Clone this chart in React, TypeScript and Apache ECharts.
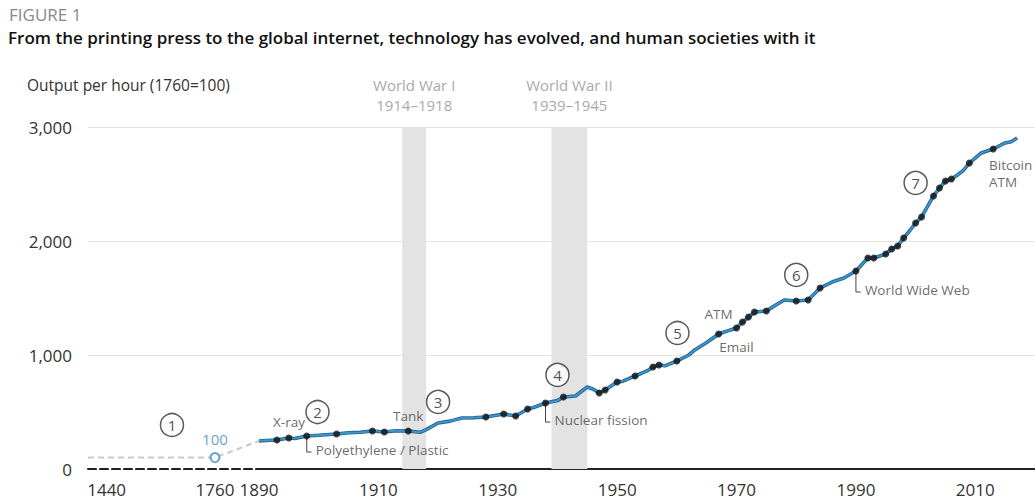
import React, { useEffect, useRef } from "react";
import * as echarts from "echarts";

// ---- data ----
const preYears = [1385, 1760, 1890];
const preValues = [100, 100, 246];

const lineYears = [
  1890, 1892, 1893, 1895, 1896, 1898, 1900, 1903, 1905, 1907, 1909, 1911, 1913, 1915, 1917, 1918,
  1920, 1922, 1924, 1926, 1928, 1931, 1933, 1935, 1936, 1938, 1940, 1941, 1943, 1945, 1946, 1947,
  1948, 1950, 1951, 1953, 1955, 1956, 1957, 1958, 1960, 1962, 1963, 1965, 1967, 1969, 1970, 1971,
  1972, 1973, 1975, 1976, 1978, 1980, 1982, 1984, 1986, 1988, 1990, 1992, 1993, 1995, 1996, 1997,
  1998, 1999, 2000, 2001, 2003, 2004, 2005, 2006, 2007, 2008, 2009, 2011, 2013, 2015, 2016, 2017,
];
const lineValues = [
  246, 252, 254, 272, 268, 290, 296, 307, 318, 322, 333, 325, 336, 333, 322, 345,
  404, 420, 447, 450, 456, 482, 465, 526, 540, 579, 600, 632, 640, 719, 700, 667,
  693, 763, 770, 816, 860, 895, 912, 905, 947, 1000, 1044, 1110, 1184, 1220, 1237, 1289,
  1333, 1377, 1386, 1420, 1482, 1474, 1482, 1588, 1640, 1675, 1737, 1851, 1851, 1886, 1930, 1956,
  2026, 2090, 2158, 2211, 2395, 2465, 2526, 2544, 2579, 2620, 2684, 2772, 2807, 2860, 2870, 2904,
];

const dotYears = [
  1893, 1895, 1898, 1903, 1909, 1911, 1915, 1928, 1931, 1933, 1935, 1938, 1941, 1947, 1948, 1950,
  1953, 1956, 1957, 1960, 1967, 1970, 1971, 1972, 1973, 1975, 1980, 1982, 1984, 1990, 1992, 1993,
  1995, 1996, 1997, 1998, 2000, 2001, 2003, 2004, 2005, 2006, 2009, 2013,
];
const dotValues = [
  254, 272, 290, 307, 333, 325, 333, 456, 482, 465, 526, 579, 632, 667, 693, 763,
  816, 895, 912, 947, 1184, 1237, 1289, 1333, 1377, 1386, 1474, 1482, 1588, 1737, 1851, 1851,
  1886, 1930, 1956, 2026, 2158, 2211, 2395, 2465, 2526, 2544, 2684, 2807,
];

const yTicks = [0, 1000, 2000, 3000];
const preTickYears = [1440, 1760];
const xTickYears = [1890, 1910, 1930, 1950, 1970, 1990, 2010];

const warNames = ["World War I", "World War II"];
const warFrom = [1914, 1939];
const warTo = [1918, 1945];

const stepLabels = ["2", "3", "4", "5", "6", "7"];
const stepYears = [1899.8, 1920, 1940, 1960.1, 1980, 2000];
const stepValues = [500, 588, 825, 1193, 1702, 2509];
const firstStepYear = 1633;
const firstStepValue = 386;

const eventLabels = ["X-ray", "Tank", "ATM", "Email", "Bitcoin\nATM"];
const eventYears = [1897.7, 1915, 1967, 1967.1, 2012.3];
const eventValues = [412, 465, 1360, 1070, 2590];

const leaderLabels = ["Polyethylene / Plastic", "Nuclear fission", "World Wide Web"];
const leaderYears = [1898, 1938, 1990];
const leaderFrom = [290, 579, 1737];
const leaderTo = [149, 412, 1553];

const FONT = "'Open Sans', 'Noto Sans', sans-serif";

export default function App() {
  const ref = useRef<HTMLDivElement>(null);
  useEffect(() => {
    if (!ref.current) return;
    const chart = echarts.init(ref.current, null, { renderer: "svg" });

    const eventAlign = ["right", "center", "center", "left", "left"];
    const linePoints = lineYears.map((y, i) => [y, lineValues[i]]);

    const leaderSeries = leaderYears.map((yr, i) => ({
      type: "line",
      xAxisIndex: 1,
      yAxisIndex: 1,
      symbol: "none",
      silent: true,
      z: 3,
      lineStyle: { color: "#444", width: 1 },
      data: [
        [yr, leaderFrom[i]],
        [yr, leaderTo[i]],
        [yr + 0.8, leaderTo[i]],
      ],
    }));

    const option: any = {
      animation: false,
      textStyle: { fontFamily: FONT },
      grid: [
        { left: 88, width: 171, top: 127, bottom: 33 },
        { left: 259, right: 0, top: 127, bottom: 33 },
      ],
      xAxis: [
        {
          type: "value",
          gridIndex: 0,
          min: 1385,
          max: 1890,
          axisLine: { show: true, lineStyle: { color: "#222", width: 2, type: [8, 4] } },
          axisTick: { show: false },
          splitLine: { show: false },
          axisLabel: {
            customValues: preTickYears,
            color: "#333",
            fontSize: 17,
            margin: 12,
            fontFamily: FONT,
            formatter: (v: number) => String(v),
          },
        },
        {
          type: "value",
          gridIndex: 1,
          min: 1890,
          max: 2020,
          axisLine: { show: true, lineStyle: { color: "#222", width: 2 } },
          axisTick: { show: false },
          splitLine: { show: false },
          axisLabel: {
            customValues: xTickYears,
            color: "#333",
            fontSize: 17,
            margin: 12,
            fontFamily: FONT,
            formatter: (v: number) => String(v),
          },
        },
      ],
      yAxis: [
        {
          type: "value",
          gridIndex: 0,
          min: 0,
          max: 3000,
          interval: 1000,
          axisLine: { show: false },
          axisTick: { show: false },
          splitLine: { lineStyle: { color: "#e4e4e4", width: 1 } },
          axisLabel: {
            color: "#333",
            fontSize: 17,
            margin: 16,
            fontFamily: FONT,
            formatter: (v: number) => (yTicks.includes(v) ? v.toLocaleString("en-US") : ""),
          },
        },
        {
          type: "value",
          gridIndex: 1,
          min: 0,
          max: 3000,
          interval: 1000,
          axisLine: { show: false },
          axisTick: { show: false },
          axisLabel: { show: false },
          splitLine: { lineStyle: { color: "#e4e4e4", width: 1 } },
        },
      ],
      graphic: [
        {
          type: "text",
          left: 9,
          top: 6,
          style: { text: "FIGURE 1", fill: "#888", fontSize: 17, fontFamily: FONT },
        },
        {
          type: "text",
          left: 8,
          top: 29,
          style: {
            text: "From the printing press to the global internet, technology has evolved, and human societies with it",
            fill: "#111",
            fontSize: 17,
            fontWeight: 600,
            fontFamily: FONT,
          },
        },
        {
          type: "text",
          left: 27,
          top: 77,
          style: { text: "Output per hour (1760=100)", fill: "#333", fontSize: 15.5, fontFamily: FONT },
        },
      ],
      series: [
        {
          type: "line",
          xAxisIndex: 0,
          yAxisIndex: 0,
          symbol: "none",
          silent: true,
          lineStyle: { color: "#c9c9c9", width: 2, type: [6, 4] },
          data: preYears.map((y, i) => [y, preValues[i]]),
        },
        {
          type: "scatter",
          xAxisIndex: 0,
          yAxisIndex: 0,
          symbol: "circle",
          symbolSize: 9,
          z: 5,
          itemStyle: { color: "#fff", borderColor: "#3a8cc2", borderWidth: 2 },
          label: {
            show: true,
            position: "top",
            distance: 6,
            formatter: "100",
            color: "#3a8cc2",
            fontSize: 15,
            fontFamily: FONT,
          },
          data: [[preYears[1], preValues[1]]],
        },
        {
          type: "scatter",
          xAxisIndex: 0,
          yAxisIndex: 0,
          symbol: "circle",
          symbolSize: 23,
          z: 5,
          itemStyle: { color: "#fff", borderColor: "#333", borderWidth: 1.5 },
          label: {
            show: true,
            position: "inside",
            formatter: "1",
            color: "#222",
            fontSize: 15,
            fontFamily: FONT,
          },
          data: [[firstStepYear, firstStepValue]],
        },
        {
          type: "line",
          xAxisIndex: 1,
          yAxisIndex: 1,
          symbol: "none",
          silent: true,
          z: 2,
          lineStyle: { color: "#23638f", width: 3.6 },
          data: linePoints,
          markArea: {
            silent: true,
            itemStyle: { color: "#e3e3e3" },
            label: {
              show: true,
              position: "top",
              distance: 12,
              color: "#aaa",
              fontSize: 15,
              lineHeight: 20,
              fontFamily: FONT,
            },
            data: warNames.map((n, i) => [
              { name: `${n}\n${warFrom[i]}–${warTo[i]}`, xAxis: warFrom[i], yAxis: 0 },
              { xAxis: warTo[i], yAxis: 3000 },
            ]),
          },
        },
        {
          type: "line",
          xAxisIndex: 1,
          yAxisIndex: 1,
          symbol: "none",
          silent: true,
          z: 2,
          lineStyle: { color: "#3d97cf", width: 1.8 },
          data: linePoints,
        },
        ...leaderSeries,
        {
          type: "scatter",
          xAxisIndex: 1,
          yAxisIndex: 1,
          symbol: "circle",
          symbolSize: 7,
          z: 4,
          itemStyle: { color: "#111" },
          data: dotYears.map((y, i) => [y, dotValues[i]]),
        },
        {
          type: "scatter",
          xAxisIndex: 1,
          yAxisIndex: 1,
          symbol: "circle",
          symbolSize: 23,
          z: 5,
          itemStyle: { color: "#fff", borderColor: "#333", borderWidth: 1.5 },
          label: {
            show: true,
            position: "inside",
            formatter: (p: any) => stepLabels[p.dataIndex],
            color: "#222",
            fontSize: 15,
            fontFamily: FONT,
          },
          data: stepYears.map((y, i) => [y, stepValues[i]]),
        },
        {
          type: "scatter",
          xAxisIndex: 1,
          yAxisIndex: 1,
          symbolSize: 0,
          silent: true,
          z: 6,
          data: eventYears.map((y, i) => ({
            value: [y, eventValues[i]],
            label: {
              show: true,
              position: "inside",
              align: eventAlign[i],
              verticalAlign: "middle",
              formatter: eventLabels[i],
              color: "#444",
              fontSize: 13.5,
              lineHeight: 17,
              fontFamily: FONT,
            },
          })),
        },
        {
          type: "scatter",
          xAxisIndex: 1,
          yAxisIndex: 1,
          symbolSize: 0,
          silent: true,
          z: 6,
          data: leaderYears.map((y, i) => ({
            value: [y + 1.5, leaderTo[i] + 15],
            label: {
              show: true,
              position: "inside",
              align: "left",
              verticalAlign: "middle",
              formatter: leaderLabels[i],
              color: "#444",
              fontSize: 13.5,
              fontFamily: FONT,
            },
          })),
        },
      ],
    };
    chart.setOption(option);
    return () => chart.dispose();
  }, []);

  return (
    <div
      ref={ref}
      style={{ position: "fixed", left: 0, top: 0, width: 1035, height: 502, background: "#fff" }}
    />
  );
}
